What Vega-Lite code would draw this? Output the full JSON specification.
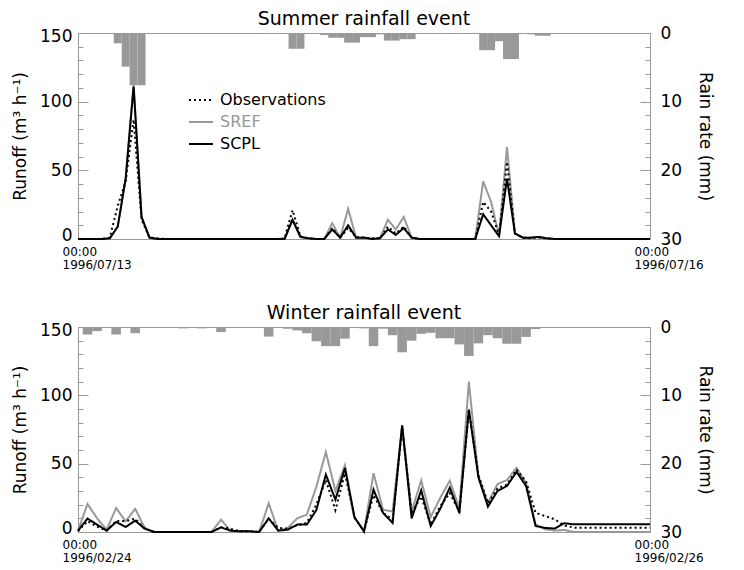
{
  "$schema": "https://vega.github.io/schema/vega-lite/v6.json",
  "background": "white",
  "padding": {"left": 11, "top": 9, "right": 5, "bottom": 0},
  "datasets": {
    "summer": [
      {"t":"1996-07-13T00:00","Observations":0,"SREF":0,"SCPL":0},
      {"t":"1996-07-13T01:00","Observations":0,"SREF":0,"SCPL":0},
      {"t":"1996-07-13T02:00","Observations":0,"SREF":0,"SCPL":0},
      {"t":"1996-07-13T03:00","Observations":0,"SREF":0,"SCPL":0},
      {"t":"1996-07-13T04:00","Observations":1,"SREF":0.5,"SCPL":0.5},
      {"t":"1996-07-13T05:00","Observations":24,"SREF":9,"SCPL":9},
      {"t":"1996-07-13T06:00","Observations":42,"SREF":44,"SCPL":44},
      {"t":"1996-07-13T07:00","Observations":87,"SREF":113,"SCPL":111},
      {"t":"1996-07-13T08:00","Observations":14,"SREF":16,"SCPL":16},
      {"t":"1996-07-13T09:00","Observations":1,"SREF":1,"SCPL":1},
      {"t":"1996-07-13T10:00","Observations":0.5,"SREF":0,"SCPL":0},
      {"t":"1996-07-13T11:00","Observations":0,"SREF":0,"SCPL":0},
      {"t":"1996-07-13T12:00","Observations":0,"SREF":0,"SCPL":0},
      {"t":"1996-07-13T13:00","Observations":0,"SREF":0,"SCPL":0},
      {"t":"1996-07-13T14:00","Observations":0,"SREF":0,"SCPL":0},
      {"t":"1996-07-13T15:00","Observations":0,"SREF":0,"SCPL":0},
      {"t":"1996-07-13T16:00","Observations":0,"SREF":0,"SCPL":0},
      {"t":"1996-07-13T17:00","Observations":0,"SREF":0,"SCPL":0},
      {"t":"1996-07-13T18:00","Observations":0,"SREF":0,"SCPL":0},
      {"t":"1996-07-13T19:00","Observations":0,"SREF":0,"SCPL":0},
      {"t":"1996-07-13T20:00","Observations":0,"SREF":0,"SCPL":0},
      {"t":"1996-07-13T21:00","Observations":0,"SREF":0,"SCPL":0},
      {"t":"1996-07-13T22:00","Observations":0,"SREF":0,"SCPL":0},
      {"t":"1996-07-13T23:00","Observations":0,"SREF":0,"SCPL":0},
      {"t":"1996-07-14T00:00","Observations":0,"SREF":0,"SCPL":0},
      {"t":"1996-07-14T01:00","Observations":0,"SREF":0,"SCPL":0},
      {"t":"1996-07-14T02:00","Observations":0.5,"SREF":0,"SCPL":0},
      {"t":"1996-07-14T03:00","Observations":21,"SREF":14,"SCPL":14},
      {"t":"1996-07-14T04:00","Observations":2,"SREF":1.5,"SCPL":1.5},
      {"t":"1996-07-14T05:00","Observations":0.5,"SREF":0.5,"SCPL":0.5},
      {"t":"1996-07-14T06:00","Observations":0,"SREF":0,"SCPL":0},
      {"t":"1996-07-14T07:00","Observations":0,"SREF":0,"SCPL":0},
      {"t":"1996-07-14T08:00","Observations":8,"SREF":11.5,"SCPL":7},
      {"t":"1996-07-14T09:00","Observations":1,"SREF":1,"SCPL":1},
      {"t":"1996-07-14T10:00","Observations":8,"SREF":22,"SCPL":10},
      {"t":"1996-07-14T11:00","Observations":1.5,"SREF":1,"SCPL":1},
      {"t":"1996-07-14T12:00","Observations":1,"SREF":1,"SCPL":1},
      {"t":"1996-07-14T13:00","Observations":0.5,"SREF":0,"SCPL":0},
      {"t":"1996-07-14T14:00","Observations":0.5,"SREF":0.5,"SCPL":0.5},
      {"t":"1996-07-14T15:00","Observations":9,"SREF":14,"SCPL":7},
      {"t":"1996-07-14T16:00","Observations":4,"SREF":7,"SCPL":3},
      {"t":"1996-07-14T17:00","Observations":9,"SREF":16,"SCPL":8},
      {"t":"1996-07-14T18:00","Observations":1,"SREF":1,"SCPL":1},
      {"t":"1996-07-14T19:00","Observations":0,"SREF":0,"SCPL":0},
      {"t":"1996-07-14T20:00","Observations":0,"SREF":0,"SCPL":0},
      {"t":"1996-07-14T21:00","Observations":0,"SREF":0,"SCPL":0},
      {"t":"1996-07-14T22:00","Observations":0,"SREF":0,"SCPL":0},
      {"t":"1996-07-14T23:00","Observations":0,"SREF":0,"SCPL":0},
      {"t":"1996-07-15T00:00","Observations":0,"SREF":0,"SCPL":0},
      {"t":"1996-07-15T01:00","Observations":0,"SREF":0,"SCPL":0},
      {"t":"1996-07-15T02:00","Observations":0,"SREF":0,"SCPL":0},
      {"t":"1996-07-15T03:00","Observations":27,"SREF":42,"SCPL":18},
      {"t":"1996-07-15T04:00","Observations":20,"SREF":27,"SCPL":10},
      {"t":"1996-07-15T05:00","Observations":3,"SREF":2.5,"SCPL":2},
      {"t":"1996-07-15T06:00","Observations":56,"SREF":67,"SCPL":44},
      {"t":"1996-07-15T07:00","Observations":4,"SREF":4,"SCPL":4},
      {"t":"1996-07-15T08:00","Observations":1,"SREF":1,"SCPL":1},
      {"t":"1996-07-15T09:00","Observations":0.5,"SREF":1,"SCPL":1},
      {"t":"1996-07-15T10:00","Observations":1,"SREF":1.5,"SCPL":1.5},
      {"t":"1996-07-15T11:00","Observations":0.5,"SREF":0.5,"SCPL":0.5},
      {"t":"1996-07-15T12:00","Observations":0,"SREF":0,"SCPL":0},
      {"t":"1996-07-15T13:00","Observations":0,"SREF":0,"SCPL":0},
      {"t":"1996-07-15T14:00","Observations":0,"SREF":0,"SCPL":0},
      {"t":"1996-07-15T15:00","Observations":0,"SREF":0,"SCPL":0},
      {"t":"1996-07-15T16:00","Observations":0,"SREF":0,"SCPL":0},
      {"t":"1996-07-15T17:00","Observations":0,"SREF":0,"SCPL":0},
      {"t":"1996-07-15T18:00","Observations":0,"SREF":0,"SCPL":0},
      {"t":"1996-07-15T19:00","Observations":0,"SREF":0,"SCPL":0},
      {"t":"1996-07-15T20:00","Observations":0,"SREF":0,"SCPL":0},
      {"t":"1996-07-15T21:00","Observations":0,"SREF":0,"SCPL":0},
      {"t":"1996-07-15T22:00","Observations":0,"SREF":0,"SCPL":0},
      {"t":"1996-07-15T23:00","Observations":0,"SREF":0,"SCPL":0},
      {"t":"1996-07-16T00:00","Observations":0,"SREF":0,"SCPL":0}
    ],
    "summerRain": [
      {"t0":"1996-07-13T04:30","t1":"1996-07-13T05:30","rain":1.5},
      {"t0":"1996-07-13T05:30","t1":"1996-07-13T06:30","rain":4.9},
      {"t0":"1996-07-13T06:30","t1":"1996-07-13T07:30","rain":7.6},
      {"t0":"1996-07-13T07:30","t1":"1996-07-13T08:30","rain":7.6},
      {"t0":"1996-07-14T02:30","t1":"1996-07-14T03:30","rain":2.3},
      {"t0":"1996-07-14T03:30","t1":"1996-07-14T04:30","rain":2.3},
      {"t0":"1996-07-14T06:30","t1":"1996-07-14T07:30","rain":0.3},
      {"t0":"1996-07-14T07:30","t1":"1996-07-14T08:30","rain":0.7},
      {"t0":"1996-07-14T08:30","t1":"1996-07-14T09:30","rain":0.7},
      {"t0":"1996-07-14T09:30","t1":"1996-07-14T10:30","rain":1.4},
      {"t0":"1996-07-14T10:30","t1":"1996-07-14T11:30","rain":1.4},
      {"t0":"1996-07-14T11:30","t1":"1996-07-14T12:30","rain":0.6},
      {"t0":"1996-07-14T12:30","t1":"1996-07-14T13:30","rain":0.6},
      {"t0":"1996-07-14T13:30","t1":"1996-07-14T14:30","rain":0.2},
      {"t0":"1996-07-14T14:30","t1":"1996-07-14T15:30","rain":1.1},
      {"t0":"1996-07-14T15:30","t1":"1996-07-14T16:30","rain":1.1},
      {"t0":"1996-07-14T16:30","t1":"1996-07-14T17:30","rain":0.9},
      {"t0":"1996-07-14T17:30","t1":"1996-07-14T18:30","rain":0.9},
      {"t0":"1996-07-15T02:30","t1":"1996-07-15T03:30","rain":2.5},
      {"t0":"1996-07-15T03:30","t1":"1996-07-15T04:30","rain":2.5},
      {"t0":"1996-07-15T04:30","t1":"1996-07-15T05:30","rain":1.2},
      {"t0":"1996-07-15T05:30","t1":"1996-07-15T06:30","rain":3.8},
      {"t0":"1996-07-15T06:30","t1":"1996-07-15T07:30","rain":3.8},
      {"t0":"1996-07-15T08:30","t1":"1996-07-15T09:30","rain":0.2},
      {"t0":"1996-07-15T09:30","t1":"1996-07-15T10:30","rain":0.4},
      {"t0":"1996-07-15T10:30","t1":"1996-07-15T11:30","rain":0.4}
    ],
    "winter": [
      {"t":"1996-02-24T00:00","Observations":0.5,"SREF":1,"SCPL":1},
      {"t":"1996-02-24T00:48","Observations":8,"SREF":20.5,"SCPL":9.8},
      {"t":"1996-02-24T01:36","Observations":4,"SREF":10,"SCPL":5.4},
      {"t":"1996-02-24T02:24","Observations":1,"SREF":1.7,"SCPL":1},
      {"t":"1996-02-24T03:12","Observations":8,"SREF":17.5,"SCPL":7.3},
      {"t":"1996-02-24T04:00","Observations":8,"SREF":7.8,"SCPL":3.7},
      {"t":"1996-02-24T04:48","Observations":9.7,"SREF":17,"SCPL":8.3},
      {"t":"1996-02-24T05:36","Observations":2.4,"SREF":3,"SCPL":2.4},
      {"t":"1996-02-24T06:24","Observations":0,"SREF":0,"SCPL":0},
      {"t":"1996-02-24T07:12","Observations":0,"SREF":0,"SCPL":0},
      {"t":"1996-02-24T08:00","Observations":0,"SREF":0,"SCPL":0},
      {"t":"1996-02-24T08:48","Observations":0,"SREF":0,"SCPL":0},
      {"t":"1996-02-24T09:36","Observations":0,"SREF":0,"SCPL":0},
      {"t":"1996-02-24T10:24","Observations":0,"SREF":0,"SCPL":0},
      {"t":"1996-02-24T11:12","Observations":0,"SREF":0,"SCPL":0},
      {"t":"1996-02-24T12:00","Observations":3.4,"SREF":9,"SCPL":3.4},
      {"t":"1996-02-24T12:48","Observations":2.4,"SREF":1,"SCPL":1},
      {"t":"1996-02-24T13:36","Observations":0.5,"SREF":0.5,"SCPL":0.5},
      {"t":"1996-02-24T14:24","Observations":0.5,"SREF":0.5,"SCPL":0.5},
      {"t":"1996-02-24T15:12","Observations":0,"SREF":0,"SCPL":0},
      {"t":"1996-02-24T16:00","Observations":9.7,"SREF":21,"SCPL":10},
      {"t":"1996-02-24T16:48","Observations":3,"SREF":1,"SCPL":1},
      {"t":"1996-02-24T17:36","Observations":2.4,"SREF":3,"SCPL":1.7},
      {"t":"1996-02-24T18:24","Observations":5,"SREF":10,"SCPL":5.4},
      {"t":"1996-02-24T19:12","Observations":6.6,"SREF":12.7,"SCPL":5.4},
      {"t":"1996-02-24T20:00","Observations":20,"SREF":33,"SCPL":16},
      {"t":"1996-02-24T20:48","Observations":38,"SREF":58.5,"SCPL":42},
      {"t":"1996-02-24T21:36","Observations":16,"SREF":30,"SCPL":23.7},
      {"t":"1996-02-24T22:24","Observations":43,"SREF":48.8,"SCPL":46.8},
      {"t":"1996-02-24T23:12","Observations":10.7,"SREF":10.7,"SCPL":10.7},
      {"t":"1996-02-25T00:00","Observations":0.5,"SREF":0.5,"SCPL":0.5},
      {"t":"1996-02-25T00:48","Observations":27,"SREF":43,"SCPL":31},
      {"t":"1996-02-25T01:36","Observations":14,"SREF":16.3,"SCPL":14},
      {"t":"1996-02-25T02:24","Observations":9,"SREF":15,"SCPL":6.6},
      {"t":"1996-02-25T03:12","Observations":76.6,"SREF":78,"SCPL":78},
      {"t":"1996-02-25T04:00","Observations":14,"SREF":15,"SCPL":10},
      {"t":"1996-02-25T04:48","Observations":26,"SREF":37.8,"SCPL":30.5},
      {"t":"1996-02-25T05:36","Observations":5.4,"SREF":11,"SCPL":4.4},
      {"t":"1996-02-25T06:24","Observations":19,"SREF":25,"SCPL":17},
      {"t":"1996-02-25T07:12","Observations":28.5,"SREF":37.5,"SCPL":32.5},
      {"t":"1996-02-25T08:00","Observations":15,"SREF":17.5,"SCPL":14},
      {"t":"1996-02-25T08:48","Observations":89.5,"SREF":110,"SCPL":89.5},
      {"t":"1996-02-25T09:36","Observations":42,"SREF":40.7,"SCPL":40},
      {"t":"1996-02-25T10:24","Observations":21,"SREF":21.5,"SCPL":18.6},
      {"t":"1996-02-25T11:12","Observations":32,"SREF":35,"SCPL":30},
      {"t":"1996-02-25T12:00","Observations":34.6,"SREF":38,"SCPL":33.7},
      {"t":"1996-02-25T12:48","Observations":45.6,"SREF":47,"SCPL":44},
      {"t":"1996-02-25T13:36","Observations":37,"SREF":35.8,"SCPL":33.7},
      {"t":"1996-02-25T14:24","Observations":14,"SREF":5.5,"SCPL":4.4},
      {"t":"1996-02-25T15:12","Observations":11.7,"SREF":2,"SCPL":3},
      {"t":"1996-02-25T16:00","Observations":9.3,"SREF":1,"SCPL":2.5},
      {"t":"1996-02-25T16:48","Observations":4.9,"SREF":1.5,"SCPL":6.4},
      {"t":"1996-02-25T17:36","Observations":3.2,"SREF":0,"SCPL":5.6},
      {"t":"1996-02-25T18:24","Observations":3.2,"SREF":0,"SCPL":5.6},
      {"t":"1996-02-25T19:12","Observations":3.2,"SREF":0,"SCPL":5.6},
      {"t":"1996-02-25T20:00","Observations":3.2,"SREF":0,"SCPL":5.6},
      {"t":"1996-02-25T20:48","Observations":3.2,"SREF":0,"SCPL":5.6},
      {"t":"1996-02-25T21:36","Observations":3.2,"SREF":0,"SCPL":5.6},
      {"t":"1996-02-25T22:24","Observations":3.2,"SREF":0,"SCPL":5.6},
      {"t":"1996-02-25T23:12","Observations":3.2,"SREF":0,"SCPL":5.6},
      {"t":"1996-02-26T00:00","Observations":3.2,"SREF":0,"SCPL":5.6}
    ],
    "winterRain": [
      {"t0":"1996-02-24T00:24","t1":"1996-02-24T01:12","rain":1.1},
      {"t0":"1996-02-24T01:12","t1":"1996-02-24T02:00","rain":0.6},
      {"t0":"1996-02-24T02:48","t1":"1996-02-24T03:36","rain":1.1},
      {"t0":"1996-02-24T04:24","t1":"1996-02-24T05:12","rain":0.9},
      {"t0":"1996-02-24T05:12","t1":"1996-02-24T06:00","rain":0.15},
      {"t0":"1996-02-24T08:24","t1":"1996-02-24T09:12","rain":0.2},
      {"t0":"1996-02-24T10:00","t1":"1996-02-24T10:48","rain":0.2},
      {"t0":"1996-02-24T11:36","t1":"1996-02-24T12:24","rain":0.75},
      {"t0":"1996-02-24T15:36","t1":"1996-02-24T16:24","rain":1.4},
      {"t0":"1996-02-24T17:12","t1":"1996-02-24T18:00","rain":0.25},
      {"t0":"1996-02-24T18:00","t1":"1996-02-24T18:48","rain":0.5},
      {"t0":"1996-02-24T18:48","t1":"1996-02-24T19:36","rain":0.9},
      {"t0":"1996-02-24T19:36","t1":"1996-02-24T20:24","rain":2.1},
      {"t0":"1996-02-24T20:24","t1":"1996-02-24T21:12","rain":2.8},
      {"t0":"1996-02-24T21:12","t1":"1996-02-24T22:00","rain":2.8},
      {"t0":"1996-02-24T22:00","t1":"1996-02-24T22:48","rain":1.7},
      {"t0":"1996-02-24T22:48","t1":"1996-02-24T23:36","rain":0.15},
      {"t0":"1996-02-24T23:36","t1":"1996-02-25T00:24","rain":0.2},
      {"t0":"1996-02-25T00:24","t1":"1996-02-25T01:12","rain":2.8},
      {"t0":"1996-02-25T01:12","t1":"1996-02-25T02:00","rain":0.25},
      {"t0":"1996-02-25T02:00","t1":"1996-02-25T02:48","rain":1.2},
      {"t0":"1996-02-25T02:48","t1":"1996-02-25T03:36","rain":3.7},
      {"t0":"1996-02-25T03:36","t1":"1996-02-25T04:24","rain":2.0},
      {"t0":"1996-02-25T04:24","t1":"1996-02-25T05:12","rain":1.0},
      {"t0":"1996-02-25T05:12","t1":"1996-02-25T06:00","rain":0.85},
      {"t0":"1996-02-25T06:00","t1":"1996-02-25T06:48","rain":1.65},
      {"t0":"1996-02-25T06:48","t1":"1996-02-25T07:36","rain":1.65},
      {"t0":"1996-02-25T07:36","t1":"1996-02-25T08:24","rain":2.55},
      {"t0":"1996-02-25T08:24","t1":"1996-02-25T09:12","rain":4.25},
      {"t0":"1996-02-25T09:12","t1":"1996-02-25T10:00","rain":2.4},
      {"t0":"1996-02-25T10:00","t1":"1996-02-25T10:48","rain":1.2},
      {"t0":"1996-02-25T10:48","t1":"1996-02-25T11:36","rain":1.65},
      {"t0":"1996-02-25T11:36","t1":"1996-02-25T12:24","rain":2.45},
      {"t0":"1996-02-25T12:24","t1":"1996-02-25T13:12","rain":2.45},
      {"t0":"1996-02-25T13:12","t1":"1996-02-25T14:00","rain":1.45},
      {"t0":"1996-02-25T14:00","t1":"1996-02-25T14:48","rain":0.3},
      {"t0":"1996-02-25T14:48","t1":"1996-02-25T15:36","rain":0.1},
      {"t0":"1996-02-25T15:36","t1":"1996-02-25T16:24","rain":0.1},
      {"t0":"1996-02-25T22:48","t1":"1996-02-25T23:36","rain":0.15}
    ]
  },
  "vconcat": [
    {
      "title": {"text": "Summer rainfall event", "fontSize": 19, "fontWeight": "normal", "offset": -5, "color": "#000000"},
      "width": 572,
      "height": 206,
      "layer": [
        {
          "data": {"name": "summerRain"},
          "mark": {"type": "bar", "color": "#999999"},
          "encoding": {
            "x": {"field": "t0", "type": "temporal",
                  "scale": {"domain": [{"year":1996,"month":7,"date":13},{"year":1996,"month":7,"date":16}]},
                  "axis": {"values": [{"year":1996,"month":7,"date":13},{"year":1996,"month":7,"date":16}],
                           "labelExpr": "[timeFormat(datum.value, '%H:%M'), timeFormat(datum.value, '%Y/%m/%d')]",
                           "ticks": false, "domain": false, "labelAlign": "left", "labelOffset": -16, "labelPadding": 7,
                           "labelBaseline": "top", "labelFontSize": 12, "labelLineHeight": 13, "labelFlush": false,
                           "labelOverlap": false, "title": null}},
            "x2": {"field": "t1"},
            "y": {"field": "rain", "type": "quantitative",
                  "scale": {"domain": [0, 30], "reverse": true, "nice": false},
                  "axis": {"orient": "right", "values": [0,2,4,6,8,10,12,14,16,18,20,22,24,26,28,30],
                           "labelExpr": "datum.value % 10 === 0 ? datum.label : ''",
                           "tickSize": -10,
                           "tickDash": {"condition": {"test": "datum.value % 10 === 0", "value": [10, 0]}, "value": [5, 20]},
                           "labelPadding": 20, "labelFontSize": 17, "labelOverlap": false, "domain": false,
                           "title": "Rain rate (mm)", "titleFontSize": 17, "titlePadding": 14}},
            "y2": {"datum": 0}
          }
        },
        {
          "data": {"name": "summer"},
          "transform": [{"fold": ["SREF", "SCPL", "Observations"], "as": ["series", "runoff"]}],
          "mark": {"type": "line", "strokeWidth": 2},
          "encoding": {
            "x": {"field": "t", "type": "temporal",
                  "scale": {"domain": [{"year":1996,"month":7,"date":13},{"year":1996,"month":7,"date":16}]}},
            "y": {"field": "runoff", "type": "quantitative",
                  "scale": {"domain": [0, 150], "nice": false},
                  "axis": {"orient": "left", "values": [0,10,20,30,40,50,60,70,80,90,100,110,120,130,140,150],
                           "labelExpr": "datum.value % 50 === 0 ? datum.label : ''",
                           "tickSize": -10,
                           "tickDash": {"condition": {"test": "datum.value % 50 === 0", "value": [10, 0]}, "value": [5, 20]},
                           "labelPadding": 16, "labelFontSize": 17, "labelOverlap": false, "labelFlush": true, "labelFlushOffset": 5, "domain": false,
                           "title": "Runoff  (m³ h⁻¹)", "titleFontSize": 17, "titlePadding": 10}},
            "color": {"field": "series", "type": "nominal",
                      "scale": {"domain": ["Observations", "SREF", "SCPL"], "range": ["#000000", "#999999", "#000000"]},
                      "legend": {"orient": "none", "legendX": 110, "legendY": 54, "title": null, "padding": 0,
                                 "symbolType": "stroke", "symbolSize": 576, "symbolStrokeWidth": 2,
                                 "labelFontSize": 16, "labelOffset": 6, "rowPadding": 1,
                                 "encode": {"labels": {"update": {"fill": {"signal": "datum.label === 'SREF' ? '#999999' : '#000000'"}}}}}},
            "strokeDash": {"field": "series", "type": "nominal",
                      "scale": {"domain": ["Observations", "SREF", "SCPL"], "range": [[2, 3], [1, 0], [1, 0]]},
                      "legend": {"orient": "none", "legendX": 110, "legendY": 54, "title": null, "padding": 0,
                                 "symbolType": "stroke", "symbolSize": 576, "symbolStrokeWidth": 2,
                                 "labelFontSize": 16, "labelOffset": 6, "rowPadding": 1,
                                 "encode": {"labels": {"update": {"fill": {"signal": "datum.label === 'SREF' ? '#999999' : '#000000'"}}}}}}
          }
        }
      ],
      "resolve": {"scale": {"y": "independent"}}
    },
    {
      "title": {"text": "Winter rainfall event", "fontSize": 19, "fontWeight": "normal", "offset": -5, "color": "#000000"},
      "width": 572,
      "height": 205,
      "layer": [
        {
          "data": {"name": "winterRain"},
          "mark": {"type": "bar", "color": "#999999"},
          "encoding": {
            "x": {"field": "t0", "type": "temporal",
                  "scale": {"domain": [{"year":1996,"month":2,"date":24},{"year":1996,"month":2,"date":26}]},
                  "axis": {"values": [{"year":1996,"month":2,"date":24},{"year":1996,"month":2,"date":26}],
                           "labelExpr": "[timeFormat(datum.value, '%H:%M'), timeFormat(datum.value, '%Y/%m/%d')]",
                           "ticks": false, "domain": false, "labelAlign": "left", "labelOffset": -16, "labelPadding": 7,
                           "labelBaseline": "top", "labelFontSize": 12, "labelLineHeight": 13, "labelFlush": false,
                           "labelOverlap": false, "title": null}},
            "x2": {"field": "t1"},
            "y": {"field": "rain", "type": "quantitative",
                  "scale": {"domain": [0, 30], "reverse": true, "nice": false},
                  "axis": {"orient": "right", "values": [0,2,4,6,8,10,12,14,16,18,20,22,24,26,28,30],
                           "labelExpr": "datum.value % 10 === 0 ? datum.label : ''",
                           "tickSize": -10,
                           "tickDash": {"condition": {"test": "datum.value % 10 === 0", "value": [10, 0]}, "value": [5, 20]},
                           "labelPadding": 20, "labelFontSize": 17, "labelOverlap": false, "domain": false,
                           "title": "Rain rate (mm)", "titleFontSize": 17, "titlePadding": 14}},
            "y2": {"datum": 0}
          }
        },
        {
          "data": {"name": "winter"},
          "transform": [{"fold": ["SREF", "SCPL", "Observations"], "as": ["series", "runoff"]}],
          "mark": {"type": "line", "strokeWidth": 2},
          "encoding": {
            "x": {"field": "t", "type": "temporal",
                  "scale": {"domain": [{"year":1996,"month":2,"date":24},{"year":1996,"month":2,"date":26}]}},
            "y": {"field": "runoff", "type": "quantitative",
                  "scale": {"domain": [0, 150], "nice": false},
                  "axis": {"orient": "left", "values": [0,10,20,30,40,50,60,70,80,90,100,110,120,130,140,150],
                           "labelExpr": "datum.value % 50 === 0 ? datum.label : ''",
                           "tickSize": -10,
                           "tickDash": {"condition": {"test": "datum.value % 50 === 0", "value": [10, 0]}, "value": [5, 20]},
                           "labelPadding": 16, "labelFontSize": 17, "labelOverlap": false, "labelFlush": true, "labelFlushOffset": 5, "domain": false,
                           "title": "Runoff  (m³ h⁻¹)", "titleFontSize": 17, "titlePadding": 10}},
            "color": {"field": "series", "type": "nominal",
                      "scale": {"domain": ["Observations", "SREF", "SCPL"], "range": ["#000000", "#999999", "#000000"]},
                      "legend": null},
            "strokeDash": {"field": "series", "type": "nominal",
                      "scale": {"domain": ["Observations", "SREF", "SCPL"], "range": [[2, 3], [1, 0], [1, 0]]},
                      "legend": null}
          }
        }
      ],
      "resolve": {"scale": {"y": "independent"}}
    }
  ],
  "spacing": 32,
  "resolve": {"scale": {"x": "independent", "color": "independent", "strokeDash": "independent"}},
  "config": {
    "font": "DejaVu Sans",
    "view": {"stroke": "#999999", "strokeWidth": 1},
    "axis": {"grid": false, "labelColor": "#000000", "titleColor": "#000000", "titleFontWeight": "normal", "tickColor": "#999999", "tickWidth": 1},
    "legend": {"labelColor": "#000000"}
  }
}
